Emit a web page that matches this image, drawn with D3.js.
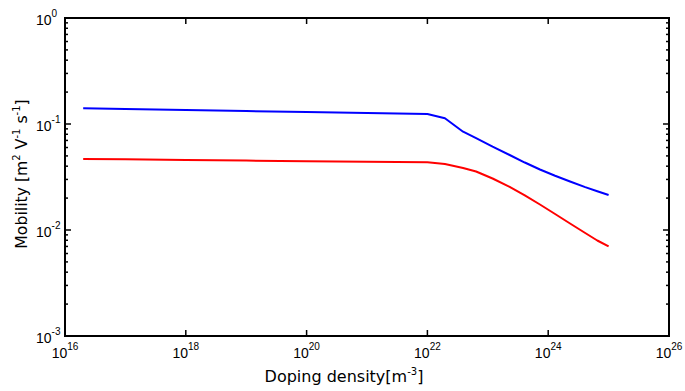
<!DOCTYPE html>
<meta charset="utf-8">
<style>
body { margin: 0; background: #fff; }
.tick-label { font-family: "Liberation Sans", Arial, sans-serif; font-size: 14px; fill: #000; }
.axis-title { font-family: "DejaVu Sans", sans-serif; font-size: 16px; fill: #000; }
.frame { fill: none; stroke: #000; stroke-width: 2px; }
.tk { stroke: #000; stroke-width: 1.5px; }
.curve { fill: none; stroke-width: 2px; stroke-linejoin: round; }
</style>
<svg width="685" height="391"></svg>
<script src="https://cdn.jsdelivr.net/npm/d3@7"></script>
<script>
// doping density [m^-3]
var density = [2e16, 1e17, 1e18, 1e19, 1e20, 1e21, 1e22, 1.95e22, 3.9e22, 6.4e22, 1.2e23, 2.3e23, 4.1e23,
               7.3e23, 1.3e24, 2.3e24, 4.1e24, 6.5e24, 1e25];
// electron (blue) and hole (red) mobility [m^2 V^-1 s^-1]
var electron = [0.1406, 0.1385, 0.1354, 0.1325, 0.1296, 0.1267, 0.1242, 0.1132, 0.0846, 0.0735, 0.0611, 0.0510, 0.0433,
                0.0372, 0.0325, 0.0287, 0.0254, 0.0232, 0.0214];
var hole = [0.0468, 0.0464, 0.0458, 0.0452, 0.0446, 0.0441, 0.0435, 0.0419, 0.0385, 0.0356, 0.0306, 0.0255, 0.0212,
            0.0174, 0.01416, 0.01151, 0.00937, 0.00796, 0.00699];

var xTicks = [16, 18, 20, 22, 24, 26];
var yTicks = [-3, -2, -1, 0];

var svg = d3.select("svg");
var m = {left: 65, right: 669, top: 18, bottom: 336};

var x = d3.scaleLog().domain([1e16, 1e26]).range([m.left, m.right]);
var y = d3.scaleLog().domain([1e-3, 1e0]).range([m.bottom, m.top]);

var line = d3.line()
    .x(function(d) { return x(d[0]); })
    .y(function(d) { return y(d[1]); });

svg.append("path").attr("class", "curve").attr("stroke", "#0000ff")
    .attr("d", line(d3.zip(density, electron)));
svg.append("path").attr("class", "curve").attr("stroke", "#ff0000")
    .attr("d", line(d3.zip(density, hole)));

// ticks on all four sides, pointing inward
var g = svg.append("g");
xTicks.forEach(function(e) {
  var px = x(Math.pow(10, e));
  g.append("line").attr("class", "tk").attr("x1", px).attr("x2", px).attr("y1", m.bottom).attr("y2", m.bottom - 6);
  g.append("line").attr("class", "tk").attr("x1", px).attr("x2", px).attr("y1", m.top).attr("y2", m.top + 6);
  var t = svg.append("text").attr("class", "tick-label")
      .attr("x", px).attr("y", 358).attr("text-anchor", "middle");
  t.append("tspan").text("10");
  t.append("tspan").attr("dy", -8).attr("font-size", "10px").text(e);
});

yTicks.forEach(function(e, i) {
  var base = Math.pow(10, e);
  var py = y(base);
  g.append("line").attr("class", "tk").attr("x1", m.left).attr("x2", m.left + 6).attr("y1", py).attr("y2", py);
  g.append("line").attr("class", "tk").attr("x1", m.right).attr("x2", m.right - 6).attr("y1", py).attr("y2", py);
  if (i < yTicks.length - 1) {
    d3.range(2, 10).forEach(function(k) {
      var my = y(k * base);
      g.append("line").attr("class", "tk").attr("x1", m.left).attr("x2", m.left + 3).attr("y1", my).attr("y2", my);
      g.append("line").attr("class", "tk").attr("x1", m.right).attr("x2", m.right - 3).attr("y1", my).attr("y2", my);
    });
  }
  var t = svg.append("text").attr("class", "tick-label")
      .attr("x", 36).attr("y", py + 7);
  t.append("tspan").text("10");
  t.append("tspan").attr("dy", -8).attr("font-size", "10px").text(e);
});

svg.append("rect").attr("class", "frame")
    .attr("x", m.left).attr("y", m.top)
    .attr("width", m.right - m.left).attr("height", m.bottom - m.top);

// axis titles
var xt = svg.append("text").attr("class", "axis-title")
    .attr("x", 344).attr("y", 382).attr("text-anchor", "middle");
xt.append("tspan").text("Doping density[m");
xt.append("tspan").attr("dy", -7).attr("font-size", "10px").text("-3");
xt.append("tspan").attr("dy", 7).text("]");

var yt = svg.append("text").attr("class", "axis-title")
    .attr("transform", "translate(27,174) rotate(-90)").attr("text-anchor", "middle")
    .style("font-size", "15.7px");
yt.append("tspan").text("Mobility [m");
yt.append("tspan").attr("dy", -7).attr("font-size", "10px").text("2");
yt.append("tspan").attr("dy", 7).text(" V");
yt.append("tspan").attr("dy", -7).attr("font-size", "10px").text("-1");
yt.append("tspan").attr("dy", 7).text(" s");
yt.append("tspan").attr("dy", -7).attr("font-size", "10px").text("-1");
yt.append("tspan").attr("dy", 7).text("]");
</script>
